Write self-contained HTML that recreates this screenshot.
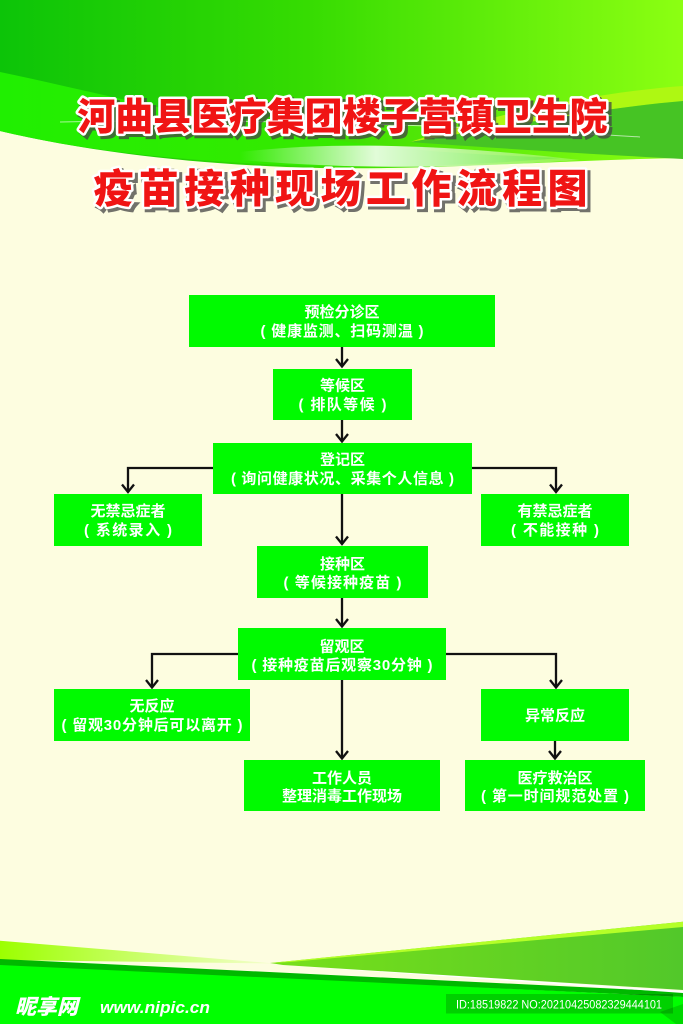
<!DOCTYPE html>
<html>
<head>
<meta charset="utf-8">
<style>
  html,body{margin:0;padding:0;background:#fdfde0;}
  body{width:683px;height:1024px;overflow:hidden;}
  svg{display:block;}
  .bt{font-family:"Liberation Sans","Noto Sans CJK SC","WenQuanYi Zen Hei",sans-serif;font-size:15px;font-weight:bold;fill:#ffffff;text-anchor:middle;white-space:pre;}
  .tt{font-family:"Liberation Sans","Noto Sans CJK SC","WenQuanYi Zen Hei",sans-serif;font-weight:900;text-anchor:middle;}
</style>
</head>
<body>
<svg width="683" height="1024" viewBox="0 0 683 1024" xmlns="http://www.w3.org/2000/svg">
  <defs>
    <linearGradient id="hg" x1="0" y1="0" x2="1" y2="0">
      <stop offset="0" stop-color="#0cc408"/>
      <stop offset="0.45" stop-color="#36dc02"/>
      <stop offset="1" stop-color="#8cff12"/>
    </linearGradient>
    <linearGradient id="lw" x1="0" y1="0" x2="1" y2="0">
      <stop offset="0" stop-color="#22f400"/>
      <stop offset="1" stop-color="#44e400"/>
    </linearGradient>
    <linearGradient id="fl" x1="0" y1="0" x2="1" y2="0">
      <stop offset="0" stop-color="#9cff00"/>
      <stop offset="1" stop-color="#f6ffd0"/>
    </linearGradient>
    <linearGradient id="fr" x1="0" y1="0" x2="1" y2="0">
      <stop offset="0" stop-color="#78e01a"/>
      <stop offset="1" stop-color="#52c82a"/>
    </linearGradient>
    <linearGradient id="sw" x1="0" y1="0" x2="1" y2="0">
      <stop offset="0" stop-color="#ffffff" stop-opacity="0"/>
      <stop offset="0.4" stop-color="#ffffff" stop-opacity="0.85"/>
      <stop offset="1" stop-color="#ffffff" stop-opacity="0.2"/>
    </linearGradient>
  </defs>

  <!-- background -->
  <rect x="0" y="0" width="683" height="1024" fill="#fdfde0"/>

  <!-- header green -->
  <path d="M0,0 H683 V158 C560,160 440,170 320,168 C190,165 80,150 0,131 Z" fill="url(#hg)"/>
  <path d="M0,72 C110,95 230,128 380,146 C450,154 520,156 560,158 C420,170 300,168 200,160 C120,154 60,145 0,131 Z" fill="url(#lw)" opacity="0.9"/>
  <path d="M683,86 C600,92 500,112 410,142 C510,126 600,108 683,101 Z" fill="#aef812"/>
  <path d="M683,101 C600,108 510,126 410,142 C520,150 610,155 683,159 Z" fill="#46c424"/>
  <path d="M240,152 C340,140 460,146 580,160 C470,168 360,170 240,160 Z" fill="url(#sw)"/>
  <path d="M60,122 C250,118 450,125 640,137" fill="none" stroke="#ffffff" stroke-opacity="0.6" stroke-width="1"/>

  <!-- title 1 -->
  <g>
    <text class="tt" x="345.5" y="133" font-size="38" textLength="530" lengthAdjust="spacingAndGlyphs" fill="#444" stroke="#444" stroke-width="5" opacity="0.75">河曲县医疗集团楼子营镇卫生院</text>
    <text class="tt" x="342.5" y="130" font-size="38" textLength="530" lengthAdjust="spacingAndGlyphs" fill="#f01414" stroke="#ffffff" stroke-width="5" stroke-linejoin="round" paint-order="stroke">河曲县医疗集团楼子营镇卫生院</text>
  </g>
  <!-- title 2 -->
  <g>
    <text class="tt" x="343.5" y="205.5" font-size="40" textLength="494" lengthAdjust="spacing" fill="#444" stroke="#444" stroke-width="5" opacity="0.75">疫苗接种现场工作流程图</text>
    <text class="tt" x="340.5" y="202.5" font-size="40" textLength="494" lengthAdjust="spacing" fill="#f01414" stroke="#ffffff" stroke-width="5" stroke-linejoin="round" paint-order="stroke">疫苗接种现场工作流程图</text>
  </g>

  <!-- connectors -->
  <g fill="none" stroke="#111111" stroke-width="2.3" stroke-linejoin="miter">
    <path d="M342,347 V366"/><path d="M336,359 L342,366.5 L348,359"/>
    <path d="M342,420 V441"/><path d="M336,434 L342,441.5 L348,434"/>
    <path d="M213,468 H128 V492"/><path d="M122,484.5 L128,492 L134,484.5"/>
    <path d="M472,468 H556 V492"/><path d="M550,484.5 L556,492 L562,484.5"/>
    <path d="M342,494 V544"/><path d="M336,536.5 L342,544 L348,536.5"/>
    <path d="M342,598 V626"/><path d="M336,619 L342,626.5 L348,619"/>
    <path d="M238,654 H152 V687"/><path d="M146,680 L152,687.5 L158,680"/>
    <path d="M446,654 H556 V687"/><path d="M550,680 L556,687.5 L562,680"/>
    <path d="M342,680 V758"/><path d="M336,751 L342,758.5 L348,751"/>
    <path d="M555,741 V758"/><path d="M549,751 L555,758.5 L561,751"/>
  </g>

  <!-- boxes -->
  <g fill="#00fa00">
    <rect x="189" y="295" width="306" height="52"/>
    <rect x="273" y="369" width="139" height="51"/>
    <rect x="213" y="443" width="259" height="51"/>
    <rect x="54" y="494" width="148" height="52"/>
    <rect x="481" y="494" width="148" height="52"/>
    <rect x="257" y="546" width="171" height="52"/>
    <rect x="238" y="628" width="208" height="52"/>
    <rect x="54" y="689" width="196" height="52"/>
    <rect x="481" y="689" width="148" height="52"/>
    <rect x="244" y="760" width="196" height="51"/>
    <rect x="465" y="760" width="180" height="51"/>
  </g>

  <!-- box text -->
  <g>
    <text class="bt" x="342" y="317">预检分诊区</text>
    <text class="bt" x="342" y="336" textLength="163" lengthAdjust="spacing">( 健康监测、扫码测温 )</text>

    <text class="bt" x="342.5" y="390.5">等候区</text>
    <text class="bt" x="342.5" y="409.5" textLength="88" lengthAdjust="spacing">( 排队等候 )</text>

    <text class="bt" x="342.5" y="464.5">登记区</text>
    <text class="bt" x="342.5" y="483.5" textLength="223" lengthAdjust="spacing">( 询问健康状况、采集个人信息 )</text>

    <text class="bt" x="128" y="516">无禁忌症者</text>
    <text class="bt" x="128" y="535" textLength="88" lengthAdjust="spacing">( 系统录入 )</text>

    <text class="bt" x="555" y="516">有禁忌症者</text>
    <text class="bt" x="555" y="535" textLength="88" lengthAdjust="spacing">( 不能接种 )</text>

    <text class="bt" x="342.5" y="569">接种区</text>
    <text class="bt" x="342.5" y="587.5" textLength="118" lengthAdjust="spacing">( 等候接种疫苗 )</text>

    <text class="bt" x="342" y="651.5">留观区</text>
    <text class="bt" x="342" y="670" textLength="181" lengthAdjust="spacing">( 接种疫苗后观察30分钟 )</text>

    <text class="bt" x="152" y="711">无反应</text>
    <text class="bt" x="152" y="730" textLength="181" lengthAdjust="spacing">( 留观30分钟后可以离开 )</text>

    <text class="bt" x="555" y="720.5">异常反应</text>

    <text class="bt" x="342" y="783">工作人员</text>
    <text class="bt" x="342" y="801">整理消毒工作现场</text>

    <text class="bt" x="555" y="783">医疗救治区</text>
    <text class="bt" x="555" y="801" textLength="148" lengthAdjust="spacing">( 第一时间规范处置 )</text>
  </g>

  <!-- footer -->
  <path d="M0,940.7 L275,963.5 L0,960 Z" fill="url(#fl)"/>
  <path d="M0,964 L683,997 L683,1024 L0,1024 Z" fill="#00ff00"/>
  <path d="M0,959 L683,992 L683,997 L0,965 Z" fill="#00b800"/>
  <path d="M283,965 L683,993 L683,991 L283,964 Z" fill="#ffffff"/>
  <path d="M270,963 L683,921.7 L683,990 L283,965 Z" fill="url(#fr)"/>
  <path d="M270,963 L683,921.7 L683,927 L290,962 Z" fill="#b4ff28"/>
  <path d="M660,1012 L683,1004 L683,1024 L676,1024 Z" fill="#00c800" opacity="0.7"/>

  <!-- watermark -->
  <text x="15" y="1014" font-family="'Liberation Sans','Noto Sans CJK SC',sans-serif" font-size="21" font-weight="900" font-style="italic" fill="#ffffff">昵享网</text>
  <text x="100" y="1013" font-family="'Liberation Sans',sans-serif" font-size="16.5" font-weight="bold" font-style="italic" fill="#ffffff" textLength="110" lengthAdjust="spacingAndGlyphs">www.nipic.cn</text>

  <rect x="446" y="994" width="227" height="19.5" fill="#000000" fill-opacity="0.18"/>
  <text x="456" y="1008.3" font-family="'Liberation Sans',sans-serif" font-size="12" fill="#ffffff" textLength="206" lengthAdjust="spacingAndGlyphs">ID:18519822 NO:20210425082329444101</text>
</svg>
</body>
</html>
